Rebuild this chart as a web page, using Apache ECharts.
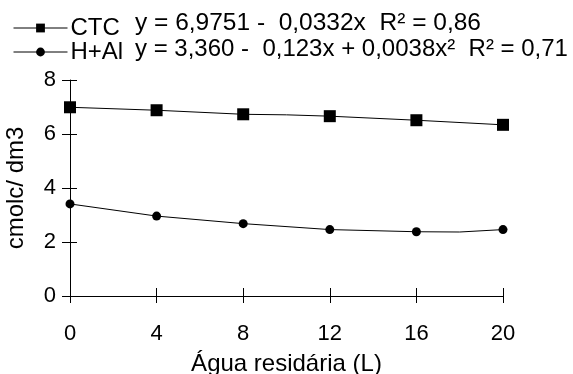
<!DOCTYPE html>
<html>
<head>
<meta charset="utf-8">
<script src="https://cdn.jsdelivr.net/npm/echarts@6/dist/echarts.min.js"></script>
<style>
  html, body {margin: 0; padding: 0; background: #fff;}
  #chart {width: 573px; height: 374px;}
</style>
</head>
<body>
<div id="chart"></div>
<script>
const xTicks = [0, 4, 8, 12, 16, 20];
// observed means
const ctcObs = [6.99, 6.88, 6.73, 6.66, 6.51, 6.34];
const hAlObs = [3.41, 2.96, 2.68, 2.46, 2.38, 2.46];
// fitted lines
const ctcLineX = [0, 4, 8, 10, 12, 16, 20];
const ctcLineY = [6.99, 6.88, 6.73, 6.71, 6.66, 6.51, 6.34];
const hAlLineX = [0, 4, 8, 12, 16, 18, 20];
const hAlLineY = [3.41, 2.96, 2.68, 2.46, 2.38, 2.37, 2.46];
const ctcEq = 'y = 6,9751 -  0,0332x  R² = 0,86';
const hAlEq = 'y = 3,360 -  0,123x + 0,0038x²  R² = 0,71';

const font = '"Liberation Sans", Arial, sans-serif';
const myChart = echarts.init(document.getElementById('chart'));

const pairs = (xs, ys) => xs.map((x, i) => [x, ys[i]]);

const xBase = {
  type: 'value', min: 0, max: 20, interval: 4,
  axisLine: {show: false}, splitLine: {show: false},
  axisLabel: {show: false},
  axisTick: {show: true, length: 7, lineStyle: {color: '#000', width: 1}}
};
const yBase = {
  type: 'value', min: 0, max: 8, interval: 2,
  axisLine: {show: false}, splitLine: {show: false},
  axisLabel: {show: false},
  axisTick: {show: true, length: 7, lineStyle: {color: '#000', width: 1}}
};

myChart.setOption({
  animation: false,
  textStyle: {fontFamily: font, color: '#000'},
  grid: {left: 70, right: 70, top: 80, bottom: 78, outerBoundsMode: 'none', containLabel: false},
  legend: {
    orient: 'vertical', left: 8, top: 11, itemGap: 0,
    itemWidth: 54, itemHeight: 11,
    textStyle: {fontSize: 24, color: '#000', fontFamily: font, padding: [0, 0, 0, -2]},
    data: ['CTC', 'H+Al']
  },
  xAxis: [
    Object.assign({}, xBase, {
      axisLine: {show: true, lineStyle: {color: '#000', width: 1}},
      axisTick: {show: true, inside: true, length: 8, lineStyle: {color: '#000'}},
      axisLabel: {show: true, fontSize: 22, color: '#000', margin: 27, fontFamily: font},
      name: 'Água residária (L)', nameLocation: 'middle', nameGap: 56,
      nameTextStyle: {fontSize: 24, color: '#000', fontFamily: font}
    }),
    Object.assign({}, xBase, {position: 'bottom', axisTick: {show: true, length: 7, lineStyle: {color: '#000'}}})
  ],
  yAxis: [
    Object.assign({}, yBase, {
      axisLine: {show: true, lineStyle: {color: '#000', width: 1}},
      axisTick: {show: true, length: 8, lineStyle: {color: '#000'}},
      axisLabel: {show: true, fontSize: 22, color: '#000', margin: 14, fontFamily: font},
      name: 'cmolc/ dm3', nameLocation: 'middle', nameGap: 42,
      nameTextStyle: {fontSize: 24, color: '#000', fontFamily: font}
    }),
    Object.assign({}, yBase, {position: 'left', axisTick: {show: true, inside: true, length: 7, lineStyle: {color: '#000'}}})
  ],
  graphic: [
    {type: 'text', left: 135, top: 11, style: {text: ctcEq, fill: '#000', fontSize: 24.5, fontFamily: font}},
    {type: 'text', left: 135, top: 37, style: {text: hAlEq, fill: '#000', fontSize: 24, fontFamily: font}}
  ],
  series: [
    {
      name: 'CTC', type: 'line', data: pairs(xTicks, ctcObs),
      symbol: 'rect', symbolSize: 12,
      itemStyle: {color: '#000'}, lineStyle: {width: 0, opacity: 0},
      z: 5
    },
    {
      name: 'H+Al', type: 'line', data: pairs(xTicks, hAlObs),
      symbol: 'circle', symbolSize: 9,
      itemStyle: {color: '#000'}, lineStyle: {width: 0, opacity: 0},
      z: 5
    },
    {
      name: 'ctcFit', type: 'line', data: pairs(ctcLineX, ctcLineY),
      showSymbol: false, symbol: 'none', silent: true,
      lineStyle: {color: '#000', width: 1}
    },
    {
      name: 'hAlFit', type: 'line', data: pairs(hAlLineX, hAlLineY),
      showSymbol: false, symbol: 'none', silent: true,
      lineStyle: {color: '#000', width: 1}
    }
  ]
});
myChart.setOption({
  legend: {data: [
    {name: 'CTC', lineStyle: {width: 1, opacity: 1, color: '#000'}},
    {name: 'H+Al', lineStyle: {width: 1, opacity: 1, color: '#000'}}
  ]}
});
</script>
</body>
</html>
